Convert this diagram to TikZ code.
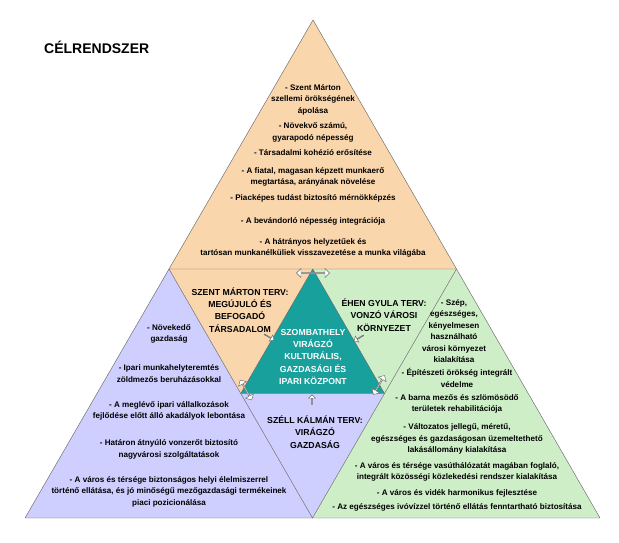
\documentclass[tikz,border=0pt]{standalone}
\usepackage{fontspec}
\setmainfont{Liberation Sans}
\usetikzlibrary{shapes.arrows}

\definecolor{peach}{RGB}{250,214,172}
\definecolor{lilac}{RGB}{206,206,255}
\definecolor{mint}{RGB}{206,238,200}
\definecolor{coreteal}{RGB}{24,160,156}
\definecolor{edgegrey}{RGB}{105,105,105}

\begin{document}
\begin{tikzpicture}[x=1pt, y=-1pt,
    every node/.style={font=\bfseries\fontsize{8.1}{11.4}\selectfont, align=center, inner sep=0pt},
    plan/.style={font=\bfseries\fontsize{8.7}{12.2}\selectfont},
    edge/.style={draw=edgegrey, line width=0.45pt, line join=round},
    twoway/.style={double arrow, draw=edgegrey, fill=white, line width=0.45pt, minimum width=9pt, double arrow head extend=1.5pt, double arrow head indent=0pt},
    oneway/.style={single arrow, draw=edgegrey, fill=white, line width=0.45pt, minimum width=7pt, single arrow head extend=1.5pt, minimum height=11pt}]

    \useasboundingbox (0,0) rectangle (619,543);

    % Corner points of the big triangle and its halves
    \coordinate (A) at (313,20);
    \coordinate (L) at (25,518);
    \coordinate (R) at (600,518);
    \coordinate (P) at (169,269);
    \coordinate (Q) at (456.5,269);
    \coordinate (M) at (312.5,518);
    \coordinate (T1) at (312.75,269);
    \coordinate (T2) at (240.75,393.5);
    \coordinate (T3) at (384.5,393.5);

    % Coloured fields
    \fill[peach] (A) -- (P) -- (Q) -- cycle;
    \fill[peach] (P) -- (T1) -- (T2) -- cycle;
    \fill[lilac] (P) -- (L) -- (M) -- cycle;
    \fill[lilac] (T2) -- (T3) -- (M) -- cycle;
    \fill[mint] (Q) -- (M) -- (R) -- cycle;
    \fill[mint] (T1) -- (Q) -- (T3) -- cycle;
    \fill[coreteal] (T1) -- (T2) -- (T3) -- cycle;

    % Outlines
    \draw[edge] (A) -- (L) -- (R) -- cycle;
    \draw[edge] (P) -- (Q) -- (M) -- cycle;
    \draw[edge] (T1) -- (T2) -- (T3) -- cycle;

    % Title
    \node[anchor=west, font=\bfseries\fontsize{14}{16}\selectfont] (title) at (44,47) {CÉLRENDSZER};

    % Top field: goals
    \foreach \name/\y/\txt in {
        top1/99.5/{- Szent Márton\\szellemi örökségének\\ápolása},
        top2/132.5/{- Növekvő számú,\\gyarapodó népesség},
        top3/153/{- Társadalmi kohézió erősítése},
        top4/177/{- A fiatal, magasan képzett munkaerő\\megtartása, arányának növelése},
        top5/198/{- Piacképes tudást biztosító mérnökképzés},
        top6/221/{- A bevándorló népesség integrációja},
        top7/248/{- A hátrányos helyzetűek és\\tartósan munkanélküliek visszavezetése a munka világába}} {
        \node (\name) at (313,\y) {\txt};
    }

    % Left field: goals
    \foreach \name/\y/\txt in {
        left1/334/{- Növekedő\\gazdaság},
        left2/373.5/{- Ipari munkahelyteremtés\\zöldmezős beruházásokkal},
        left3/411/{- A meglévő ipari vállalkozások\\fejlődése előtt álló akadályok lebontása},
        left4/449.5/{- Határon átnyúló vonzerőt biztosító\\nagyvárosi szolgáltatások},
        left5/491.5/{- A város és térsége biztonságos helyi élelmiszerrel\\történő ellátása, és jó minőségű mezőgazdasági termékeinek\\piaci pozicionálása}} {
        \node (\name) at (169,\y) {\txt};
    }

    % Right field: goals
    \foreach \name/\x/\y/\txt in {
        right1/454/331/{- Szép,\\egészséges,\\kényelmesen\\használható\\városi környezet\\kialakítása},
        right2/457/378/{- Építészeti örökség integrált\\védelme},
        right3/457/404/{- A barna mezős és szlömösödő\\területek rehabilitációja},
        right4/457/439/{- Változatos jellegű, méretű,\\egészséges és gazdaságosan üzemeltethető\\lakásállomány kialakítása},
        right5/457/472/{- A város és térsége vasúthálózatát magában foglaló,\\integrált közösségi közlekedési rendszer kialakítása},
        right6/457/493/{- A város és vidék harmonikus fejlesztése},
        right7/457/507/{- Az egészséges ivóvízzel történő ellátás fenntartható biztosítása}} {
        \node (\name) at (\x,\y) {\txt};
    }

    % Plans round the centre
    \node[plan] (marton) at (240,310) {SZENT MÁRTON TERV:\\MEGÚJULÓ ÉS\\BEFOGADÓ\\TÁRSADALOM};
    \node[plan] (ehen) at (384,315) {ÉHEN GYULA TERV:\\VONZÓ VÁROSI\\KÖRNYEZET};
    \node[plan] (szell) at (315,432) {SZÉLL KÁLMÁN TERV:\\VIRÁGZÓ\\GAZDASÁG};
    \node[plan, text=white] (core) at (313,357) {SZOMBATHELY\\VIRÁGZÓ\\KULTURÁLIS,\\GAZDASÁGI ÉS\\IPARI KÖZPONT};

    % Arrows at the centre
    \node[twoway, minimum height=33pt] (arrtop) at (313,273) {};
    \node[twoway, minimum height=23pt, rotate=-60] (arrleft) at (246,390) {};
    \node[twoway, minimum height=22pt, rotate=60] (arrright) at (379,385) {};
    \node[oneway, rotate=-30] (inleft) at (269,337) {};
    \node[oneway, rotate=-150] (inright) at (359,338) {};
    \node[oneway, minimum height=10pt, rotate=90] (inbottom) at (312,400) {};

\end{tikzpicture}
\end{document}
